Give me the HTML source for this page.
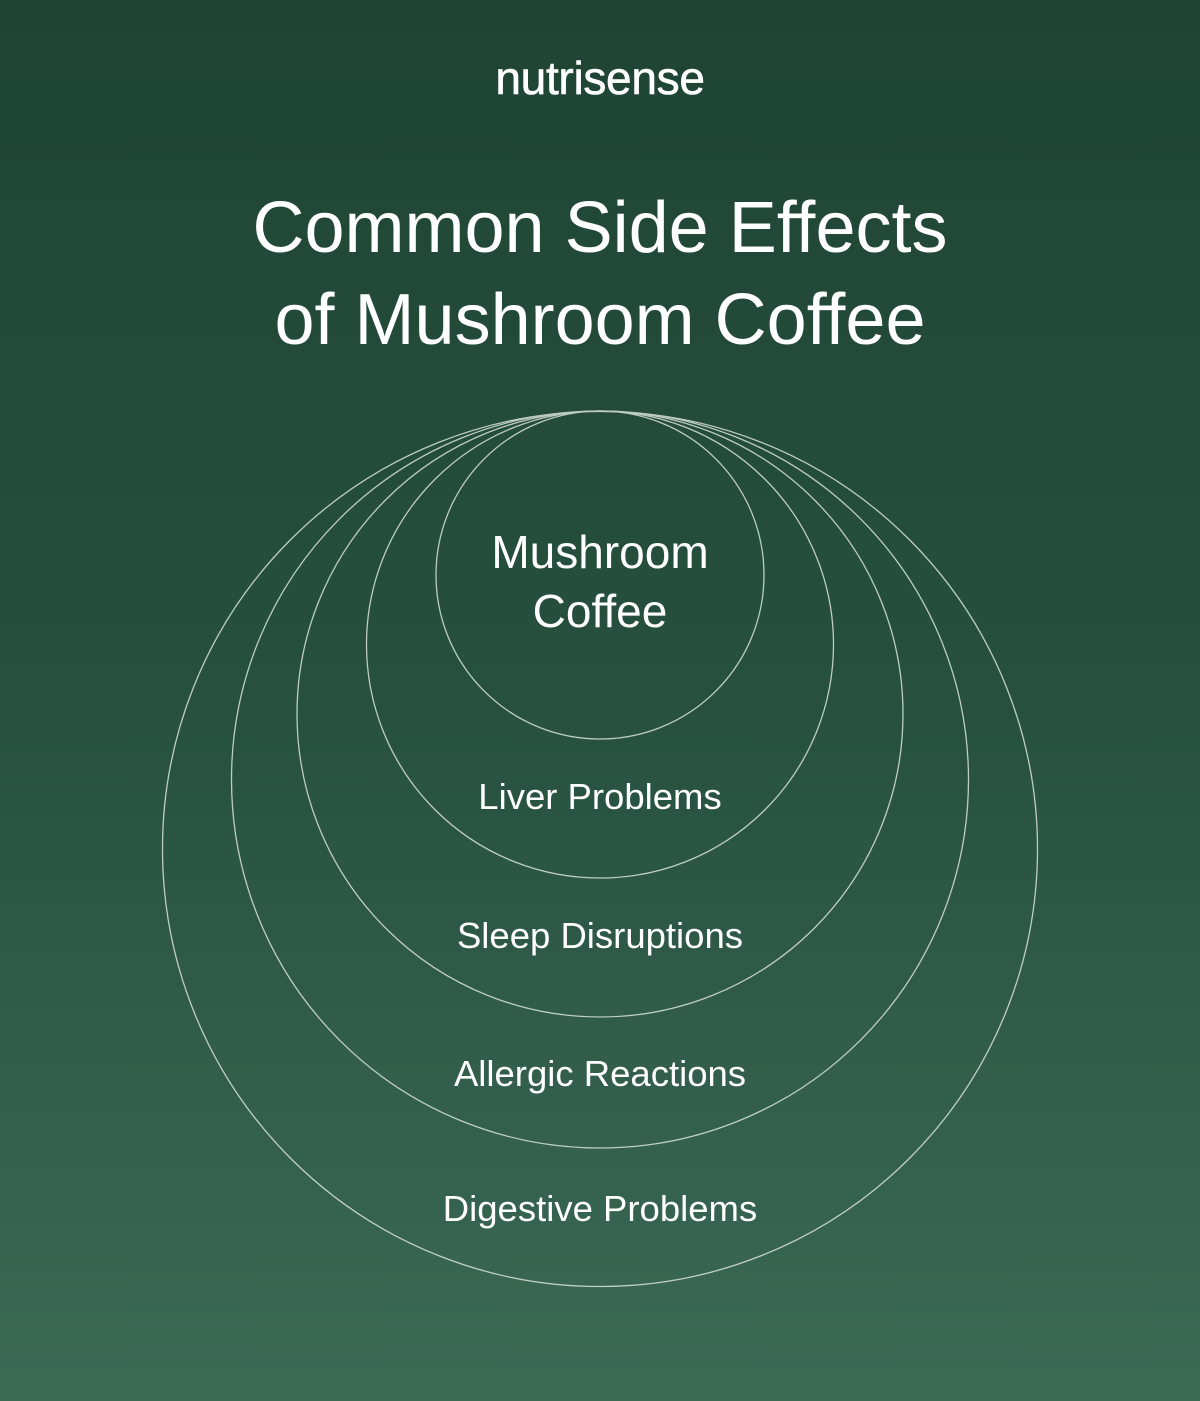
<!DOCTYPE html>
<html><head><meta charset="utf-8"><style>
html,body{margin:0;padding:0}
body{width:1200px;height:1401px;overflow:hidden;background:linear-gradient(180deg,#1f4434 0%,#27503f 50%,#3b6a55 100%);font-family:"Liberation Sans",sans-serif;color:#fff;position:relative}
.t{position:absolute;left:0;width:1200px;text-align:center;white-space:nowrap}
.l{font-size:36.5px;line-height:40px}
</style></head><body>
<div class="t" style="top:52px;font-size:46px;line-height:52px;letter-spacing:-0.3px;-webkit-text-stroke:0.6px #fff">nutrisense</div>
<div class="t" style="top:182px;font-size:72px;line-height:92px">Common Side Effects<br>of Mushroom Coffee</div>
<svg style="position:absolute;left:0;top:0" width="1200" height="1401">
<g fill="none" stroke="#d8e2dc" stroke-width="1.3" opacity="0.85">
<circle cx="600" cy="575" r="164"/>
<circle cx="600" cy="644.5" r="233.5"/>
<circle cx="600" cy="714" r="303"/>
<circle cx="600" cy="779.5" r="368.5"/>
<circle cx="600" cy="849" r="437.5"/>
</g></svg>
<div class="t" style="top:523px;font-size:46px;line-height:59px">Mushroom<br>Coffee</div>
<div class="t l" style="top:777px">Liver Problems</div>
<div class="t l" style="top:916px">Sleep Disruptions</div>
<div class="t l" style="top:1054px">Allergic Reactions</div>
<div class="t l" style="top:1189px">Digestive Problems</div>
</body></html>
